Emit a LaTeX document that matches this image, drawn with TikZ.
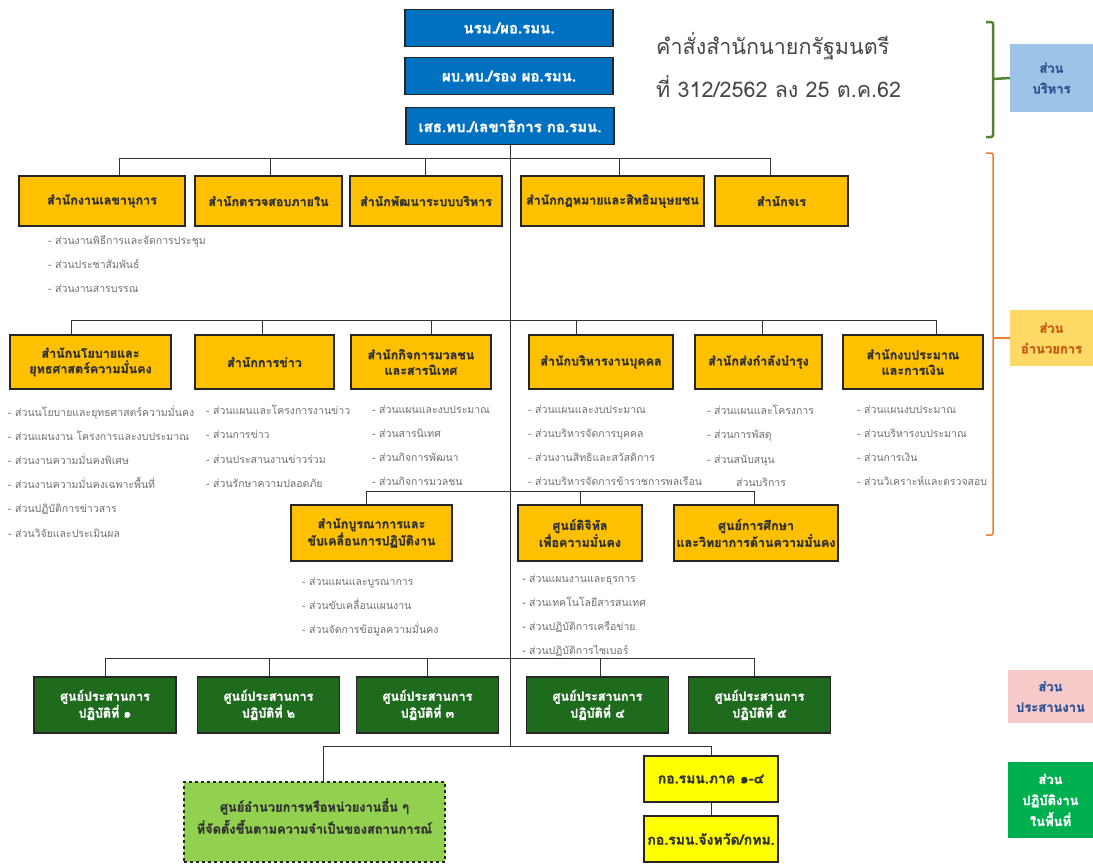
\documentclass[tikz,border=0pt]{standalone}
\usepackage{fontspec}
\newfontfamily\thai[Script=Thai, BoldFeatures={FakeBold=1.4}]{Loma}
\definecolor{bluebox}{HTML}{0070C0}
\definecolor{yelbox}{HTML}{FFC000}
\definecolor{grnbox}{HTML}{1E6B1E}
\definecolor{limebox}{HTML}{92D050}
\definecolor{brightyel}{HTML}{FFFF00}
\definecolor{subgray}{HTML}{707070}
\definecolor{legblue}{HTML}{9DC3E6}
\definecolor{legyel}{HTML}{FFD966}
\definecolor{legpink}{HTML}{F8CBCB}
\definecolor{leggreen}{HTML}{00B050}
\definecolor{brgreen}{HTML}{548235}
\definecolor{brorange}{HTML}{ED7D31}
\definecolor{legorangetext}{HTML}{C55A11}
\definecolor{legbluetext}{HTML}{2F5597}
\begin{document}
\begin{tikzpicture}[x=1pt,y=-1pt,
 box/.style={draw=black!85, line width=1.1pt, inner sep=1pt, align=center, font=\thai\bfseries\fontsize{12.5}{15.5}\selectfont},
 bluebx/.style={box, fill=bluebox, text=white, minimum width=208, minimum height=37, font=\thai\bfseries\fontsize{15}{18}\selectfont},
 ybx/.style={box, fill=yelbox, text=black!80},
 gbx/.style={box, fill=grnbox, text=white, minimum width=142, minimum height=56},
 brbx/.style={box, fill=brightyel, text=black!80, minimum width=134, minimum height=46, font=\thai\bfseries\fontsize{14}{17}\selectfont},
 sub/.style={anchor=north west, inner sep=0, align=left, text=subgray, font=\thai\fontsize{10.5}{24.2}\selectfont},
 conn/.style={draw=black!80, line width=0.9pt},
 leg/.style={inner sep=1pt, align=center, font=\thai\bfseries\fontsize{13}{20.5}\selectfont},
]
\useasboundingbox (0,0) rectangle (1093,865);
\fill[white] (0,0) rectangle (1093,865);

% top blue boxes
\node[bluebx] (n1) at (509,28) {นรม./ผอ.รมน.};
\node[bluebx] (n2) at (509,76) {ผบ.ทบ./รอง ผอ.รมน.};
\node[bluebx] (n3) at (510,126) {เสธ.ทบ./เลขาธิการ กอ.รมน.};

% title
\node[anchor=west, align=left, inner sep=0, text=black!72, font=\thai\fontsize{21.5}{43}\selectfont] (title) at (656,65) {คำสั่งสำนักนายกรัฐมนตรี\\ที่ 312/2562 ลง 25 ต.ค.62};

% trunk
\coordinate (tb) at (510,746);
\draw[conn] (n3.south) -- (tb);

% row 1
\node[ybx, minimum width=166, minimum height=50] (a1) at (102,201) {สำนักงานเลขานุการ};
\node[ybx, minimum width=147, minimum height=50] (a2) at (268.5,201) {สำนักตรวจสอบภายใน};
\node[ybx, minimum width=152, minimum height=50] (a3) at (426,201) {สำนักพัฒนาระบบบริหาร};
\node[ybx, minimum width=183, minimum height=50, inner xsep=0pt] (a4) at (612.5,201) {สำนักกฎหมายและสิทธิมนุษยชน};
\node[ybx, minimum width=133, minimum height=50] (a5) at (781.5,201) {สำนักจเร};
\draw[conn] (119,158) -- (770,158);
\foreach \x/\n in {119/a1,270/a2,425/a3,619/a4,770/a5}
  \draw[conn] (\x,158) -- (\x,158 |- \n.north);

\node[sub] (a1s) at (48,235) {- ส่วนงานพิธีการและจัดการประชุม\\- ส่วนประชาสัมพันธ์\\- ส่วนงานสารบรรณ};

% row 2
\node[ybx, minimum width=161, minimum height=54] (b1) at (90.5,362) {สำนักนโยบายและ\\ยุทธศาสตร์ความมั่นคง};
\node[ybx, minimum width=139, minimum height=54] (b2) at (264.5,362) {สำนักการข่าว};
\node[ybx, minimum width=140, minimum height=54] (b3) at (421,362) {สำนักกิจการมวลชน\\และสารนิเทศ};
\node[ybx, minimum width=144, minimum height=54] (b4) at (601,362) {สำนักบริหารงานบุคคล};
\node[ybx, minimum width=127, minimum height=54] (b5) at (758.5,362) {สำนักส่งกำลังบำรุง};
\node[ybx, minimum width=140, minimum height=54] (b6) at (913,362) {สำนักงบประมาณ\\และการเงิน};
\draw[conn] (71,320) -- (936,320);
\foreach \x/\n in {71/b1,262/b2,431/b3,576/b4,762/b5,936/b6}
  \draw[conn] (\x,320) -- (\x,320 |- \n.north);

\node[sub] (b1s) at (8,405) {- ส่วนนโยบายและยุทธศาสตร์ความมั่นคง\\- ส่วนแผนงาน โครงการและงบประมาณ\\- ส่วนงานความมั่นคงพิเศษ\\- ส่วนงานความมั่นคงเฉพาะพื้นที่\\- ส่วนปฏิบัติการข่าวสาร\\- ส่วนวิจัยและประเมินผล};
\node[sub] (b2s) at (206,405) {- ส่วนแผนและโครงการงานข่าว\\- ส่วนการข่าว\\- ส่วนประสานงานข่าวร่วม\\- ส่วนรักษาความปลอดภัย};
\node[sub] (b3s) at (372,405) {- ส่วนแผนและงบประมาณ\\- ส่วนสารนิเทศ\\- ส่วนกิจการพัฒนา\\- ส่วนกิจการมวลชน};
\node[sub] (b4s) at (528,405) {- ส่วนแผนและงบประมาณ\\- ส่วนบริหารจัดการบุคคล\\- ส่วนงานสิทธิและสวัสดิการ\\- ส่วนบริหารจัดการข้าราชการพลเรือน};
\node[sub] (b5s) at (707,405) {- ส่วนแผนและโครงการ\\- ส่วนการพัสดุ\\- ส่วนสนับสนุน};
\node[sub] (b5x) at (736,477.6) {ส่วนบริการ};
\node[sub] (b6s) at (857,405) {- ส่วนแผนงบประมาณ\\- ส่วนบริหารงบประมาณ\\- ส่วนการเงิน\\- ส่วนวิเคราะห์และตรวจสอบ};

% row 3
\node[ybx, minimum width=161, minimum height=56] (c1) at (371.5,533) {สำนักบูรณาการและ\\ขับเคลื่อนการปฏิบัติงาน};
\node[ybx, minimum width=124, minimum height=56] (c2) at (580,533) {ศูนย์ดิจิทัล\\เพื่อความมั่นคง};
\node[ybx, minimum width=164, minimum height=56, inner xsep=0pt] (c3) at (756,533) {ศูนย์การศึกษา\\และวิทยาการด้านความมั่นคง};
\draw[conn] (366,491) -- (754,491);
\foreach \x/\n in {366/c1,580/c2,754/c3}
  \draw[conn] (\x,491) -- (\x,491 |- \n.north);

\node[sub] (c1s) at (302,577) {- ส่วนแผนและบูรณาการ\\- ส่วนขับเคลื่อนแผนงาน\\- ส่วนจัดการข้อมูลความมั่นคง};
\node[sub] (c2s) at (522,574) {- ส่วนแผนงานและธุรการ\\- ส่วนเทคโนโลยีสารสนเทศ\\- ส่วนปฏิบัติการเครือข่าย\\- ส่วนปฏิบัติการไซเบอร์};

% row 4 (green)
\node[gbx] (d1) at (105,705) {ศูนย์ประสานการ\\ปฏิบัติที่ ๑};
\node[gbx] (d2) at (268.5,705) {ศูนย์ประสานการ\\ปฏิบัติที่ ๒};
\node[gbx] (d3) at (427.5,705) {ศูนย์ประสานการ\\ปฏิบัติที่ ๓};
\node[gbx] (d4) at (597.5,705) {ศูนย์ประสานการ\\ปฏิบัติที่ ๔};
\node[gbx] (d5) at (759.5,705) {ศูนย์ประสานการ\\ปฏิบัติที่ ๕};
\draw[conn] (105,658) -- (754,658);
\foreach \x/\n in {105/d1,269/d2,427/d3,600/d4,754/d5}
  \draw[conn] (\x,658) -- (\x,658 |- \n.north);

% bottom
\node[draw=black!85, line width=1.1pt, dashed, fill=limebox, minimum width=261, minimum height=80, inner sep=0] (e1) at (314.5,822) {};
\node[align=center, inner sep=0, text=black!80, font=\thai\bfseries\fontsize{12.8}{22}\selectfont] (e1t) at (314.5,816) {ศูนย์อำนวยการหรือหน่วยงานอื่น ๆ\\ที่จัดตั้งขึ้นตามความจำเป็นของสถานการณ์};
\node[brbx] (e2) at (711,779) {กอ.รมน.ภาค ๑-๔};
\node[brbx] (e3) at (711,839) {กอ.รมน.จังหวัด/กทม.};
\draw[conn] (323,746) -- (711,746);
\draw[conn] (323,746) -- (323,746 |- e1.north);
\draw[conn] (711,746) -- (e2.north);
\draw[conn] (e2) -- (e3);

% legend
\node[leg, fill=legblue, text=legbluetext, minimum width=83, minimum height=68] (l1) at (1051.5,78) {ส่วน\\บริหาร};
\node[leg, fill=legyel, text=legorangetext, minimum width=83, minimum height=56] (l2) at (1051.5,338) {ส่วน\\อำนวยการ};
\node[leg, fill=legpink, text=legbluetext, minimum width=85, minimum height=53] (l3) at (1050.5,696.5) {ส่วน\\ประสานงาน};
\node[leg, fill=leggreen, text=white, minimum width=85, minimum height=76, font=\thai\bfseries\fontsize{13}{21}\selectfont] (l4) at (1050.5,800) {ส่วน\\ปฏิบัติงาน\\ในพื้นที่};
\draw[brgreen, line width=2.5pt, rounded corners=2pt] (986,22) -- (993,22) -- (993,137) -- (986,137);
\draw[brgreen, line width=2.5pt] (993,79) -- (l1.west);
\draw[brorange, line width=1.5pt, rounded corners=2pt] (986,153) -- (993,153) -- (993,535) -- (986,535);
\draw[brorange, line width=1.5pt] (993,338) -- (l2.west);
\end{tikzpicture}
\end{document}
